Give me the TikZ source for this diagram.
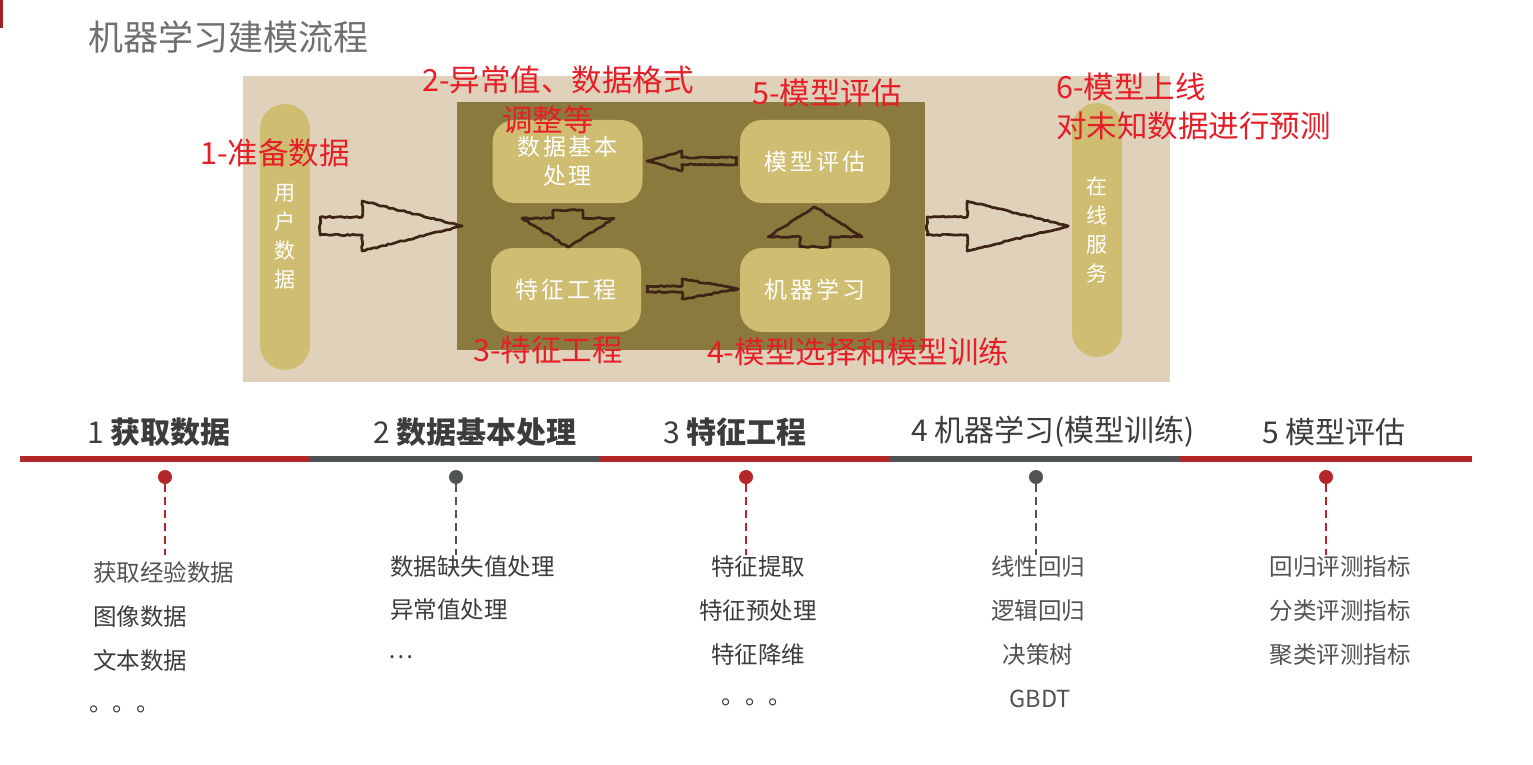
\documentclass[tikz,border=0pt]{standalone}
\usepackage{fontspec}
\setmainfont{Noto Sans CJK SC}
\newfontfamily\boxf{Noto Sans CJK SC}[LetterSpace=12]
\usetikzlibrary{calc,decorations.pathmorphing}
\newcommand\fsz[2]{\fontsize{#1pt}{#2pt}\selectfont}
\definecolor{paper}{HTML}{DFD1BA}
\definecolor{olive}{HTML}{8B7A3E}
\definecolor{pill}{HTML}{CFBD72}
\definecolor{ink}{HTML}{3E2414}
\definecolor{lblred}{HTML}{E61E28}
\definecolor{tred}{HTML}{B3262A}
\definecolor{tgray}{HTML}{4F5354}
\definecolor{titlegray}{HTML}{6F6F6F}
\definecolor{headgray}{HTML}{3C3C3C}
\begin{document}
\begin{tikzpicture}[x=1pt,y=1pt,
  sketch/.style={draw=ink,line width=2.7pt,line join=round,
    decoration={random steps,segment length=3pt,amplitude=0.7pt},decorate},
  pics/blockarrow/.style args={#1/#2/#3/#4}{code={
    \draw[sketch] (0,-#2) -- ({#1-#4},-#2) -- ({#1-#4},-#3) -- (#1,0)
      -- ({#1-#4},#3) -- ({#1-#4},#2) -- (0,#2) -- cycle;}},
  pillbox/.style={fill=pill,rounded corners=25pt,minimum width=50pt,
    text=white,align=center,font=\fsz{21}{29}},
  stepbox/.style={fill=pill,rounded corners=22pt,minimum width=150pt,
    text=white,align=center,font=\boxf\fsz{23}{29}},
  redlbl/.style={text=lblred,font=\fsz{30.5}{39},inner sep=0pt},
  head/.style={text=headgray,font=\fsz{30}{36},inner sep=0pt},
  item/.style={text=headgray,font=\fsz{23.5}{28},inner sep=0pt},
  itemlight/.style={text=black!68,font=\fsz{23.5}{28},inner sep=0pt},
  dotred/.style={circle,fill=tred,minimum size=14pt,inner sep=0pt},
  dotgray/.style={circle,fill=tgray,minimum size=14pt,inner sep=0pt},
  dashred/.style={draw=tred,line width=1.5pt,dash pattern=on 8pt off 5pt},
  dashgray/.style={draw=tgray,line width=1.5pt,dash pattern=on 8pt off 5pt},
  lred/.style={draw=tred,line width=6pt},
  lgray/.style={draw=tgray,line width=6pt}]
\useasboundingbox (0,0) rectangle (1533,-765);
\fill[white] (0,0) rectangle (1533,-765);
\fill[tred!90!black] (0,0) rectangle (3,-28);
% title
\node[text=titlegray,font=\fsz{35}{40},inner sep=0pt] (title) at (228,-37) {机器学习建模流程};
% picture
\node[fill=paper,minimum width=927pt,minimum height=306pt,inner sep=0pt] (paperbg) at (706.5,-229) {};
\node[fill=olive,minimum width=468pt,minimum height=248pt,inner sep=0pt] (inner) at (691,-226) {};
\node[pillbox,minimum height=266pt] (user) at (285,-237) {用\\户\\数\\据};
\node[pillbox,minimum height=254pt] (svc) at (1097,-230) {在\\线\\服\\务};
\node[stepbox,minimum height=83pt] (b1) at (567.5,-161.5) {数据基本\\处理};
\node[stepbox,minimum height=84pt] (b2) at (566,-290) {特征工程};
\node[stepbox,minimum height=83pt] (b3) at (815,-161.5) {模型评估};
\node[stepbox,minimum height=84pt] (b4) at (815,-290) {机器学习};
% arrows
\pic at ($(user.east)+(10,11)$) {blockarrow=142/9/25/100};
\pic at ($(inner.east)+(2,0)$) {blockarrow=141/9/25/101};
\pic[rotate=-90] at ($(b1.south)+(0.5,-7)$) {blockarrow=37/15/46/29};
\pic[rotate=90] at ($(b4.north)+(0,1)$) {blockarrow=40/15/47/30};
\pic[rotate=180] at ($(b3.west)+(-3,0.5)$) {blockarrow=90/3.5/10/35};
\pic at ($(b2.east)+(6,1)$) {blockarrow=91/3/10/56};
% red labels
\node[redlbl] (l1) at (275,-153) {1-准备数据};
\node[redlbl] (l2a) at (558,-80) {2-异常值、数据格式};
\node[redlbl] (l2b) at (548,-120) {调整等};
\node[redlbl] (l5) at (827,-93) {5-模型评估};
\node[redlbl,anchor=west,align=left] (l6) at (1056,-106.5) {6-模型上线\\对未知数据进行预测};
\node[redlbl] (l3) at (548,-350) {3-特征工程};
\node[redlbl] (l4) at (858,-352) {4-模型选择和模型训练};
% timeline
\node[head] (h1) at (159,-432) {1 \bfseries 获取数据};
\node[head] (h2) at (475,-432) {2 \bfseries 数据基本处理};
\node[head] (h3) at (735,-432) {3 \bfseries 特征工程};
\node[head] (h4) at (1053,-432) {4 机器学习(模型训练)};
\node[head] (h5) at (1334,-432) {5 模型评估};
\draw[lred] (20,-459) -- (310,-459);
\draw[lgray] (310,-459) -- (600,-459);
\draw[lred] (600,-459) -- (890,-459);
\draw[lgray] (890,-459) -- (1180,-459);
\draw[lred] (1180,-459) -- (1472,-459);
\node[dotred] (d1) at (165,-477) {};
\node[dotgray] (d2) at (456,-477) {};
\node[dotred] (d3) at (746,-477) {};
\node[dotgray] (d4) at (1036,-477) {};
\node[dotred] (d5) at (1326,-477) {};
\coordinate (e1) at (165,-555);
\coordinate (e2) at (456,-555);
\coordinate (e3) at (746,-555);
\coordinate (e4) at (1036,-555);
\coordinate (e5) at (1326,-555);
\draw[dashred] (d1.south) -- (e1);
\draw[dashgray] (d2.south) -- (e2);
\draw[dashred] (d3.south) -- (e3);
\draw[dashgray] (d4.south) -- (e4);
\draw[dashred] (d5.south) -- (e5);
% lists
\node[itemlight,anchor=west] (c1a) at (93,-573) {获取经验数据};
\node[item,anchor=west] (c1b) at (93,-617) {图像数据};
\node[item,anchor=west] (c1c) at (93,-661) {文本数据};
\node[item,anchor=west] (c1d) at (89,-709) {。。。};
\node[item,anchor=west] (c2a) at (390,-567) {数据缺失值处理};
\node[item,anchor=west] (c2b) at (390,-610) {异常值处理};
\node[item,anchor=west] (c2c) at (388,-657) {…};
\node[item] (c3a) at (758,-567) {特征提取};
\node[item] (c3b) at (758,-611) {特征预处理};
\node[item] (c3c) at (758,-655) {特征降维};
\node[item] (c3d) at (757,-702) {。。。};
\node[itemlight] (c4a) at (1038,-567) {线性回归};
\node[itemlight] (c4b) at (1038,-611) {逻辑回归};
\node[itemlight] (c4c) at (1038,-655) {决策树};
\node[itemlight] (c4d) at (1040,-699) {GBDT};
\node[itemlight] (c5a) at (1340,-567) {回归评测指标};
\node[itemlight] (c5b) at (1340,-611) {分类评测指标};
\node[itemlight] (c5c) at (1340,-655) {聚类评测指标};
\end{tikzpicture}
\end{document}
